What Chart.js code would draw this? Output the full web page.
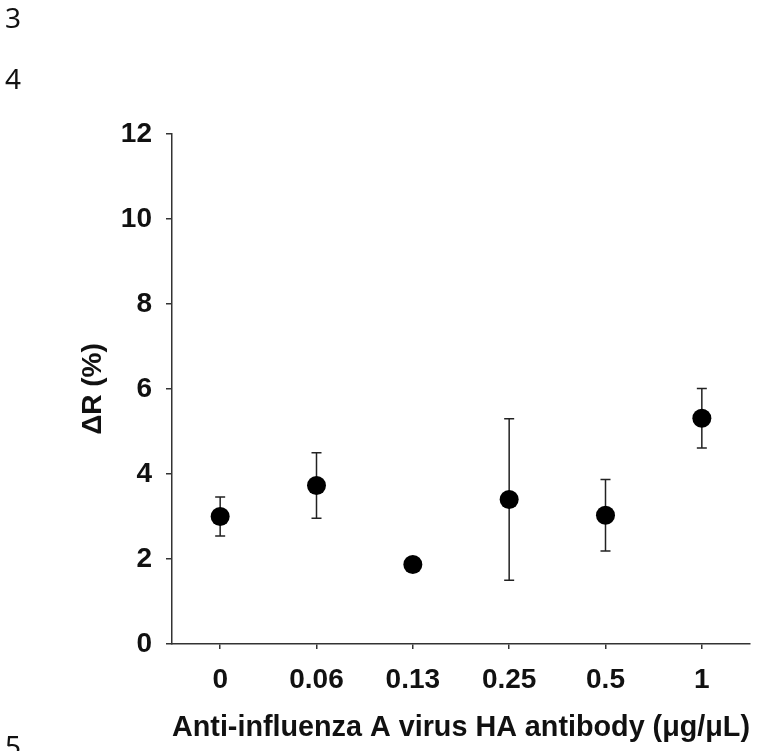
<!DOCTYPE html>
<html>
<head>
<meta charset="utf-8">
<script src="https://cdn.jsdelivr.net/npm/chart.js@4/dist/chart.umd.min.js"></script>
<style>
  html, body { margin: 0; padding: 0; background: #fff; overflow: hidden; }
  body { width: 768px; height: 751px; position: relative; }
  #c { position: absolute; left: 0; top: 0; }
  .ln { position: absolute; left: 5px; font-family: "Noto Sans", "Open Sans", sans-serif; font-size: 28px; line-height: 28px; color: #111; }
</style>
</head>
<body>
<canvas id="c" width="768" height="751"></canvas>
<div class="ln" style="top:3px">3</div>
<div class="ln" style="top:64px">4</div>
<div class="ln" style="top:731px">5</div>
<script>
// Data
const doses = ['0', '0.06', '0.13', '0.25', '0.5', '1'];
const deltaR = [3.0, 3.73, 1.87, 3.40, 3.03, 5.31];
const errs = [0.46, 0.77, 0, 1.9, 0.84, 0.70];
const yTicks = [0, 2, 4, 6, 8, 10, 12];

const axisColor = '#333';
const fam = 'Arial, "Liberation Sans", sans-serif';
const boldFont = { family: fam, size: 28, weight: 'bold' };

// error bars drawn under the dots
const errorBars = {
  id: 'errorBars',
  beforeDatasetsDraw(chart) {
    const ctx = chart.ctx;
    const y = chart.scales.y;
    const pts = chart.getDatasetMeta(0).data;
    ctx.save();
    ctx.strokeStyle = '#222';
    ctx.lineWidth = 1.5;
    pts.forEach((p, i) => {
      if (!errs[i]) return;
      const top = y.getPixelForValue(deltaR[i] + errs[i]);
      const bot = y.getPixelForValue(deltaR[i] - errs[i]);
      ctx.beginPath();
      ctx.moveTo(p.x, top); ctx.lineTo(p.x, bot);
      ctx.moveTo(p.x - 5, top); ctx.lineTo(p.x + 5, top);
      ctx.moveTo(p.x - 5, bot); ctx.lineTo(p.x + 5, bot);
      ctx.stroke();
    });
    ctx.restore();
  }
};

new Chart(document.getElementById('c'), {
  type: 'line',
  data: {
    labels: doses,
    datasets: [{
      data: deltaR,
      showLine: false,
      pointRadius: 9.5,
      pointBackgroundColor: '#000',
      pointBorderColor: '#000',
      pointBorderWidth: 0
    }]
  },
  options: {
    responsive: false,
    animation: false,
    devicePixelRatio: 1,
    layout: { padding: { top: 134, right: 18, bottom: 0, left: 0 } },
    plugins: { legend: { display: false }, tooltip: { enabled: false } },
    scales: {
      x: {
        type: 'category',
        offset: true,
        grid: { drawOnChartArea: false, color: axisColor, lineWidth: 1.5, tickLength: 5, offset: false },
        border: { color: axisColor, width: 1.5 },
        ticks: { color: '#111', font: boldFont, padding: 14, maxRotation: 0 },
        title: { display: true, text: 'Anti-influenza A virus HA antibody (\u03bcg/\u03bcL)', color: '#111', font: { family: fam, size: 29, weight: 'bold' }, padding: { top: 0, bottom: 6 } },
        afterFit(s) { s.height = 107; }
      },
      y: {
        min: 0, max: 12,
        afterBuildTicks(s) { s.ticks = yTicks.map(v => ({ value: v })); },
        grid: { drawOnChartArea: false, color: axisColor, lineWidth: 1.5, tickLength: 6 },
        border: { color: axisColor, width: 1.5 },
        ticks: { color: '#111', font: boldFont, padding: 14 },
        title: { display: true, text: '\u0394R (%)', color: '#111', font: boldFont, padding: { top: 76, bottom: 0 } },
        afterFit(s) { s.width = 172; }
      }
    }
  },
  plugins: [errorBars]
});
</script>
</body>
</html>
